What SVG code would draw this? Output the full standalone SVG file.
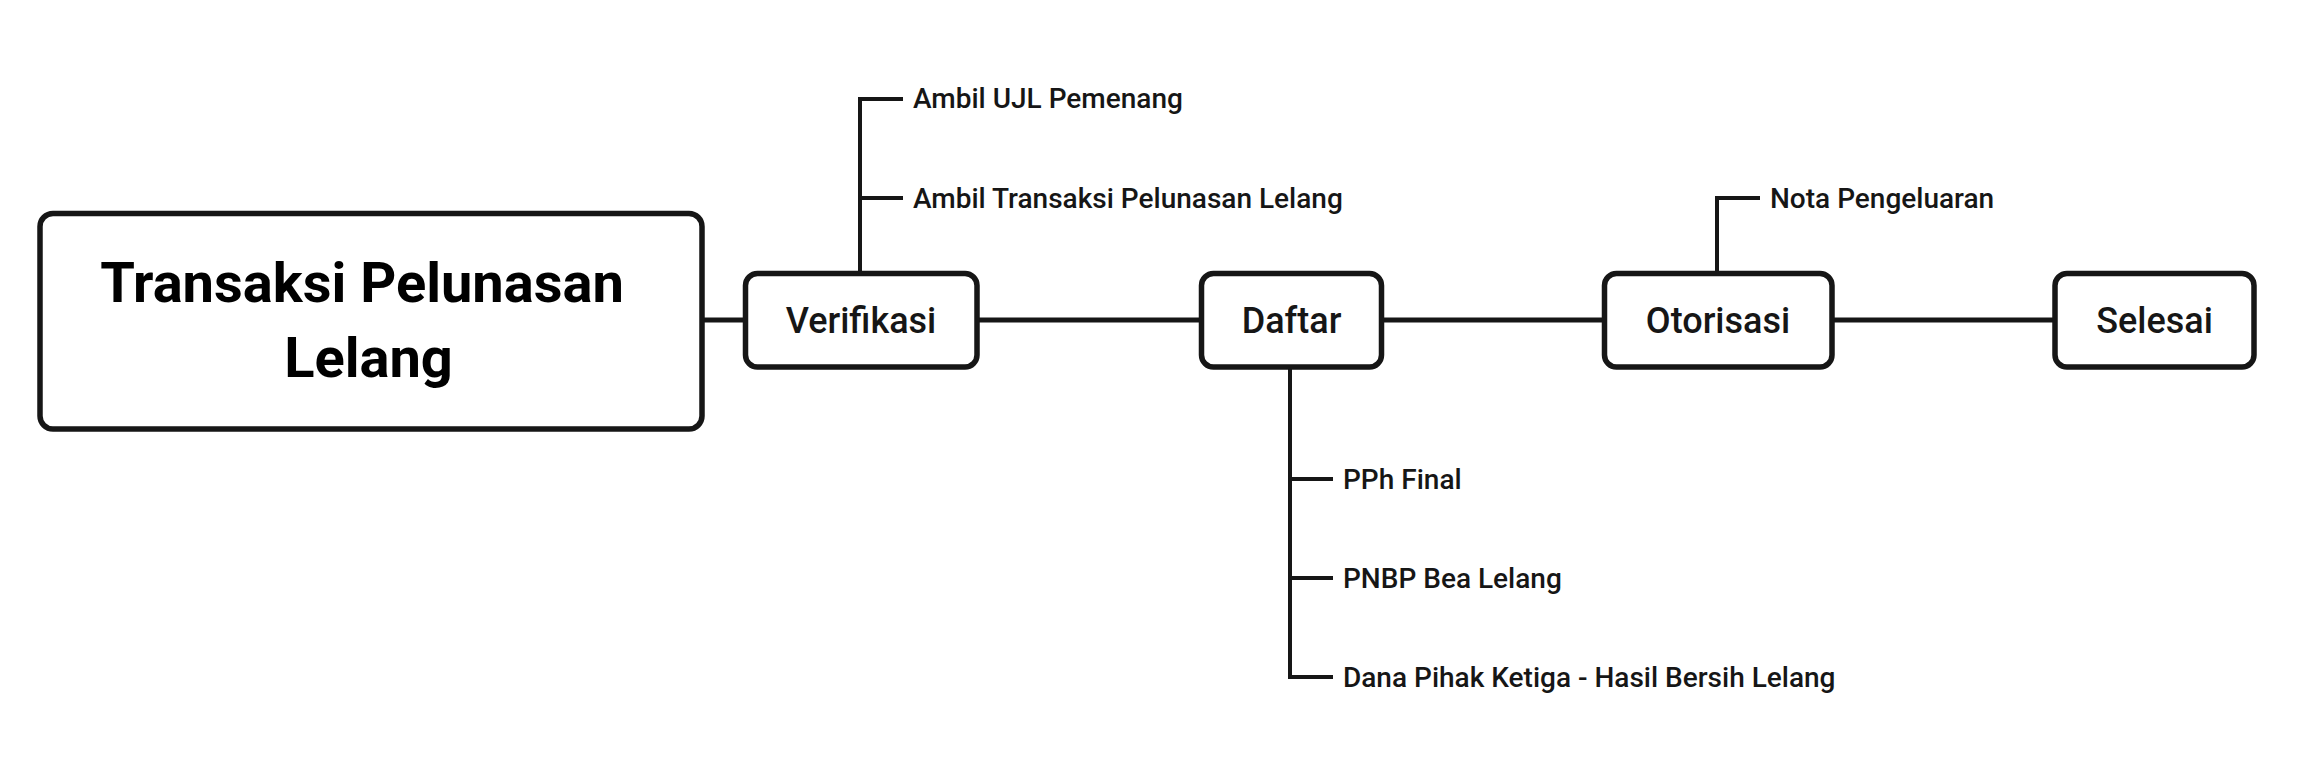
<svg xmlns="http://www.w3.org/2000/svg" width="2302" height="770" viewBox="0 0 2302 770">
<style>
.box{fill:#fff;stroke:#161616;stroke-width:5.5}
.main{fill:none;stroke:#161616;stroke-width:5}
.br{fill:none;stroke:#161616;stroke-width:4}
.title{font-family:Roboto,"Liberation Sans",sans-serif;font-weight:700;font-size:56px;fill:#000;text-anchor:middle}
.node{font-family:Roboto,"Liberation Sans",sans-serif;font-weight:500;font-size:36px;fill:#161616;text-anchor:middle}
.lbl{font-family:Roboto,"Liberation Sans",sans-serif;font-weight:500;font-size:28px;fill:#161616}
</style>
<rect width="2302" height="770" fill="#fff"/>
<g id="connectors">
<path class="main" d="M702,320H745.5M977,320H1201.5M1381.5,320H1604.5M1832,320H2055"/>
<path class="br" d="M903,99H860V273.5M860,198H903"/>
<path class="br" d="M1760,198H1717V273.5"/>
<path class="br" d="M1290,367V677H1333M1290,479H1333M1290,578H1333"/>
</g>
<g id="root">
<rect class="box" x="40" y="213.5" width="662" height="215.5" rx="13"/>
<text class="title" x="362" y="302">Transaksi Pelunasan</text>
<text class="title" x="368.5" y="377">Lelang</text>
</g>
<g id="verifikasi">
<rect class="box" x="745.5" y="273.5" width="231.5" height="93.5" rx="12"/>
<text class="node" x="861" y="333">Verifikasi</text>
</g>
<g id="daftar">
<rect class="box" x="1201.5" y="273.5" width="180" height="93.5" rx="12"/>
<text class="node" x="1291.5" y="333">Daftar</text>
</g>
<g id="otorisasi">
<rect class="box" x="1604.5" y="273.5" width="227.5" height="93.5" rx="12"/>
<text class="node" x="1718" y="333">Otorisasi</text>
</g>
<g id="selesai">
<rect class="box" x="2055" y="273.5" width="199" height="93.5" rx="12"/>
<text class="node" x="2154.5" y="333">Selesai</text>
</g>
<g id="ambil-ujl"><text class="lbl" x="913" y="108">Ambil UJL Pemenang</text></g>
<g id="ambil-transaksi"><text class="lbl" x="913" y="208">Ambil Transaksi Pelunasan Lelang</text></g>
<g id="nota"><text class="lbl" x="1770" y="208">Nota Pengeluaran</text></g>
<g id="pph"><text class="lbl" x="1343" y="489">PPh Final</text></g>
<g id="pnbp"><text class="lbl" x="1343" y="588">PNBP Bea Lelang</text></g>
<g id="dana"><text class="lbl" x="1343" y="687">Dana Pihak Ketiga - Hasil Bersih Lelang</text></g>
</svg>
